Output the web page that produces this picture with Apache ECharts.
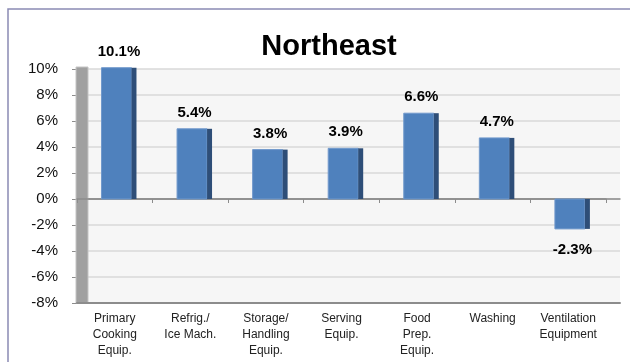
<!DOCTYPE html>
<html>
<head>
<meta charset="utf-8">
<script src="https://cdn.jsdelivr.net/npm/echarts@6/dist/echarts.min.js"></script>
<style>html,body{margin:0;padding:0;background:#fff}#c{width:630px;height:362px}</style>
</head>
<body>
<div id="c"></div>
<script>
const titleText = 'Northeast';
const categories = ['Primary\nCooking\nEquip.', 'Refrig./\nIce Mach.', 'Storage/\nHandling\nEquip.', 'Serving\nEquip.', 'Food\nPrep.\nEquip.', 'Washing', 'Ventilation\nEquipment'];
const values = [10.1, 5.4, 3.8, 3.9, 6.6, 4.7, -2.3];
const yMin = -8, yMax = 10, yStep = 2;

const FONT = '"Liberation Sans", Arial, sans-serif';
const chart = echarts.init(document.getElementById('c'), null, {renderer: 'canvas'});

const seriesData = values.map((v, i) => [i, v]);

chart.setOption({
  backgroundColor: '#fff',
  animation: false,
  title: {
    text: titleText, left: 324, top: 27, textAlign: 'center',
    textStyle: {fontFamily: FONT, fontWeight: 'bold', fontSize: 29, color: '#000'}
  },
  graphic: [
    {type: 'rect', z: -10, shape: {x: 8, y: 9, width: 660, height: 400}, style: {fill: 'none', stroke: '#8a8ab4', lineWidth: 1.5}},
    {type: 'rect', z: 5, shape: {x: 76, y: 67, width: 12, height: 236}, style: {fill: '#a0a0a0', stroke: '#c4c4c4', lineWidth: 1}}
  ],
  grid: [
    {left: 77, right: 24, top: 69, bottom: 59, containLabel: false},
    {left: 88, right: 10, top: 69, bottom: 59, show: true, backgroundColor: '#f6f6f6', borderWidth: 0, z: -5}
  ],
  xAxis: [
    {gridIndex: 0, type: 'category', data: categories, position: 'bottom',
     axisLine: {onZero: true, lineStyle: {color: '#8c8c8c', width: 1.5}},
     axisTick: {show: true, length: 4, lineStyle: {color: '#8c8c8c'}},
     axisLabel: {show: false}, splitLine: {show: false}, z: 6},
    {gridIndex: 0, type: 'category', data: categories, position: 'bottom',
     axisLine: {onZero: false, lineStyle: {color: '#8c8c8c', width: 2}},
     axisTick: {show: false},
     axisLabel: {show: true, interval: 0, margin: 8, fontFamily: FONT, fontSize: 12, lineHeight: 16, color: '#222'},
     splitLine: {show: false}, z: 6},
    {gridIndex: 1, type: 'category', data: categories, show: true,
     axisLine: {onZero: true, lineStyle: {color: '#8c8c8c', width: 1.5}},
     axisTick: {show: false}, axisLabel: {show: false}, splitLine: {show: false}},
    {gridIndex: 1, type: 'category', data: categories, show: true, position: 'bottom',
     axisLine: {onZero: false, lineStyle: {color: '#8c8c8c', width: 2}},
     axisTick: {show: false}, axisLabel: {show: false}, splitLine: {show: false}}
  ],
  yAxis: [
    {gridIndex: 0, type: 'value', min: yMin, max: yMax, interval: yStep,
     axisLine: {show: false},
     axisTick: {show: true, length: 5, inside: false, lineStyle: {color: '#8c8c8c'}},
     axisLabel: {show: true, margin: 19, fontFamily: FONT, fontSize: 15, color: '#111', formatter: v => v + '%'},
     splitLine: {show: false}},
    {gridIndex: 1, type: 'value', min: yMin, max: yMax, interval: yStep,
     axisLine: {show: false}, axisTick: {show: false}, axisLabel: {show: false},
     splitLine: {show: true, lineStyle: {color: '#d8d8d8', width: 1.5}}}
  ],
  series: [{
    type: 'custom',
    xAxisIndex: 0, yAxisIndex: 0,
    z: 10,
    data: seriesData,
    renderItem: function (params, api) {
      const idx = api.value(0), v = api.value(1);
      const p1 = api.coord([idx, v]);
      const p0 = api.coord([idx, 0]);
      const bw = api.size([1, 0])[0];
      const left = p1[0] - 0.176 * bw;
      const fw = 0.397 * bw, sw = 0.066 * bw;
      const yTop = Math.min(p1[1], p0[1]);
      const h = Math.abs(p0[1] - p1[1]);
      const labelY = v >= 0 ? yTop - 16 : yTop + h + 21;
      return {
        type: 'group',
        children: [
          {type: 'rect', shape: {x: left, y: yTop, width: fw, height: h},
           style: {fill: '#4f81bd', stroke: '#7199cc', lineWidth: 1}},
          {type: 'rect', shape: {x: left + fw, y: yTop, width: sw, height: h},
           style: {fill: '#2e4e78'}},
          {type: 'text', x: left + (fw + sw) / 2, y: labelY,
           style: {text: v.toFixed(1) + '%', fill: '#000', fontFamily: FONT, fontWeight: 'bold', fontSize: 15,
                   align: 'center', verticalAlign: 'middle'}}
        ]
      };
    }
  }]
});
</script>
</body>
</html>
